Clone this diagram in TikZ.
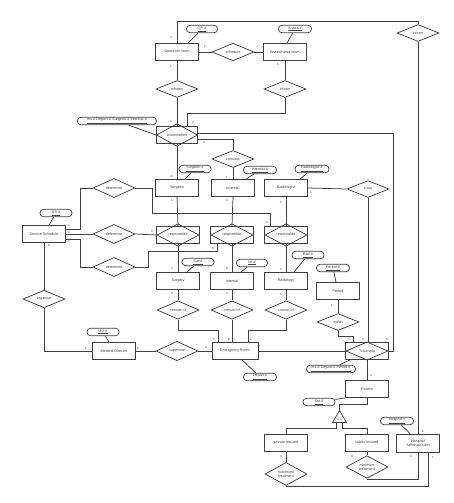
\documentclass[tikz,border=0pt]{standalone}
\usepackage{fontspec}
\setmainfont{Liberation Sans}
\usetikzlibrary{shapes.geometric}
\tikzset{
  base/.style={font=\fontsize{3.7}{4.3}\selectfont, text=black!75},
  ent/.style={base, draw=black!75, fill=white, line width=0.75pt, minimum width=43, minimum height=17, inner sep=0, align=center},
  rel/.style={base, draw=black!75, fill=white, line width=0.75pt, diamond, minimum width=42, minimum height=17, inner sep=0, align=center},
  arel/.style={base, draw=black!75, line width=0.75pt, diamond, minimum width=42, minimum height=16.5, inner sep=0},
  attr/.style={base, draw=black!75, fill=white, line width=0.75pt, rounded corners=3.5, minimum height=7.5, inner sep=0, minimum width=#1},
  attr/.default=32,
  conn/.style={draw=black!75, line width=0.75pt},
  lab/.style={font=\fontsize{3.2}{4}\selectfont, text=black!75, inner sep=0}
}
\begin{document}
\begin{tikzpicture}[x=1pt,y=-1pt]
\useasboundingbox[fill=white] (0,0) rectangle (454,503);

% ---------- entities / relations ----------
\node[ent] (opteam) at (177,52) {Operation team};
\node[ent] (anteam) at (285,52) {Anaesthesia team};
\node[attr=31] (opid) at (202,29) {\underline{OP-\#}};
\node[attr=33] (anid) at (295,29) {\underline{Anaes-\#}};
\node[rel] (schedule) at (233,52) {schedule};
\node[rel] (informs) at (177,89) {informs};
\node[rel] (inform2) at (285,89) {inform};
\node[rel] (informtop) at (418,33) {inform};

\node[ent, minimum width=41, minimum height=16.5] (exam) at (177,135) {};
\node[arel, minimum width=41] (examd) at (exam) {examination};
\node[attr=79] (examid) at (117,121) {\underline{Ins-\#-Depart-\#-Surgeon-\#-Internist-\#}};
\node[rel] (consults) at (233,159) {consults};

\node[ent] (surgeon) at (177,188) {Surgeon};
\node[attr=32] (surgid) at (195,169) {\underline{Surgeon-\#}};
\node[ent] (internist) at (233,188) {Internist};
\node[attr=33] (intid) at (260,170) {\underline{Internist-\#}};
\node[ent] (radiologist) at (286,188) {Radiologist};
\node[attr=34] (radid) at (312,169) {\underline{Radiologist-\#}};
\node[rel] (xray) at (368,189) {x-ray};

\node[ent] (resp1) at (178,235) {};
\node[arel] (resp1d) at (resp1) {responsible};
\node[ent] (resp2) at (232,235) {};
\node[arel] (resp2d) at (resp2) {responsible};
\node[ent] (resp3) at (286,235) {};
\node[arel] (resp3d) at (resp3) {responsible};

\node[ent] (ss) at (44,234) {Service Schedule};
\node[attr=32] (ssid) at (56,213) {\underline{SS-\#}};
\node[rel] (det1) at (114,188) {determine};
\node[rel] (det2) at (114,234) {determine};
\node[rel] (det3) at (114,267) {determine};
\node[rel] (organise) at (44,299) {organise};

\node[ent] (surgery) at (178,281) {Surgery};
\node[attr=32] (surid) at (198,262) {\underline{Sur-\#}};
\node[ent] (internal) at (232,281) {Internal};
\node[attr=31] (inid) at (252,263) {\underline{Int-\#}};
\node[ent] (radiology) at (286,281) {Radiology};
\node[attr=32] (rdid) at (308,255) {\underline{Rad-\#}};
\node[ent] (period) at (338,291) {Period};
\node[attr=33] (perid) at (333,268) {\underline{Period-\#}};
\node[rel] (within) at (338,322) {within};

\node[rel] (cons1) at (178,310) {consist of};
\node[rel] (cons2) at (232,310) {consist of};
\node[rel] (cons3) at (286,310) {consist of};

\node[ent, minimum width=46] (er) at (235,351) {Emergency Room};
\node[attr=33] (depid) at (260,377) {\underline{Depart-\#}};
\node[ent] (md) at (114,351) {Medical Director};
\node[attr=32] (mdid) at (103,332) {\underline{MD-\#}};
\node[rel] (supervise) at (177,351) {supervise};

\node[ent] (traumata) at (367,351) {};
\node[arel] (traumatad) at (traumata) {Traumata};
\node[attr=49] (trid) at (331,369) {\underline{Ins-\#-Depart-\#-Period-\#}};
\node[ent] (patient) at (367,389) {Patient};
\node[attr=32] (staid) at (319,402) {\underline{Sta-\#}};
\node[base, draw=black!75, fill=white, line width=0.75pt, regular polygon, regular polygon sides=3, minimum size=16, inner sep=0] (isa) at (339.5,418.5) {};
\node[base, inner sep=0, font=\fontsize{2.6}{3}\selectfont] (isat) at (339.5,419.5) {is a};

\node[ent] (private) at (286,443) {private insured};
\node[ent] (public) at (367,443) {public insured};
\node[ent, minimum height=18] (hosp) at (418,443) {Hospital\\Administration};
\node[attr=33] (hospid) at (397,421) {\underline{HospAd-\#}};
\node[rel, minimum height=18] (maxt) at (286,474) {maximum\\treatment};
\node[rel, minimum height=18] (mint) at (367,467) {minimum\\treatment};

% ---------- coordinates ----------
\coordinate (c1) at (177,21);
\coordinate (c4) at (187,113);
\coordinate (c3) at (393,133);
\coordinate (k1) at (80,188);
\coordinate (k2) at (152,213);
\coordinate (k3) at (80,267);
\coordinate (k4) at (148,251);
\coordinate (k5) at (178,330);
\coordinate (k6) at (286,330);
\coordinate (k7) at (338,336);
\coordinate (k8) at (367,404);
\coordinate (k9) at (286,428);
\coordinate (k10) at (367,428);
\coordinate (k11) at (367,479);
\coordinate (k12) at (286,486);

% ---------- connectors ----------
\draw[conn] (opteam.north) -- (c1) -| (informtop.north);
\draw[conn] (informtop.south) -- (hosp.north);
\draw[conn] (opteam.east) -- (schedule.west);
\draw[conn] (schedule.east) -- (anteam.west);
\draw[conn] (opteam.south) -- (informs.north);
\draw[conn] (informs.south) -- (exam.north);
\draw[conn] (anteam.south) -- (inform2.north);
\draw[conn] (inform2.south) |- (c4) -- ([xshift=10]exam.north);
\draw[conn] (opid) -- ([xshift=11]opteam.north);
\draw[conn] (anid) -- ([xshift=2]anteam.north);
\draw[conn] (examid) -- (exam.west);
\draw[conn] ([yshift=2]exam.east) -- (c3) |- (traumata.east);
\draw[conn] ([yshift=-4]exam.east) -| (consults.north);
\draw[conn] (consults.south) -- (internist.north);
\draw[conn] (exam.south) -- (surgeon.north);
\draw[conn] (surgid) -- ([xshift=8]surgeon.north);
\draw[conn] (intid) -- ([xshift=13]internist.north);
\draw[conn] (radid) -- ([xshift=14]radiologist.north);
\draw[conn] (radiologist.east) -- (xray.west);
\draw[conn] (xray.south) -- (xray.south |- traumata.north);
\draw[conn] (surgeon.south) -- (resp1.north);
\draw[conn] (internist.south) -- (resp2.north);
\draw[conn] (radiologist.south) -- (resp3.north);
\draw[conn] (ssid) -- ([xshift=5]ss.north);
\draw[conn] ([yshift=5]ss.east) -| (k1) -- (det1.west);
\draw[conn] (det1.east) -| (k2) -| ([xshift=-16]resp3.north);
\draw[conn] (ss.east) -- (det2.west);
\draw[conn] (det2.east) -- (resp1.west);
\draw[conn] ([yshift=-5]ss.east) -| (k3) -- (det3.west);
\draw[conn] (det3.east) -| (k4) -| ([xshift=-15]resp2.south);
\draw[conn] (ss.south) -- (organise.north);
\draw[conn] (organise.south) |- (md.west);
\draw[conn] (md.east) -- (supervise.west);
\draw[conn] (supervise.east) -- (er.west);
\draw[conn] (mdid) -- ([xshift=-5]md.north);
\draw[conn] (resp1.south) -- (surgery.north);
\draw[conn] (resp2.south) -- (internal.north);
\draw[conn] (resp3.south) -- (radiology.north);
\draw[conn] (surid) -- ([xshift=9]surgery.north);
\draw[conn] (inid) -- ([xshift=9]internal.north);
\draw[conn] (rdid) -- ([xshift=8]radiology.north);
\draw[conn] (surgery.south) -- (cons1.north);
\draw[conn] (internal.south) -- (cons2.north);
\draw[conn] (radiology.south) -- (cons3.north);
\draw[conn] (cons1.south) -- (k5) -| ([xshift=-17]er.north);
\draw[conn] (cons2.south) -- (cons2.south |- er.north);
\draw[conn] (cons3.south) -- (k6) -| ([xshift=13]er.north);
\draw[conn] (depid) -- ([xshift=7]er.south);
\draw[conn] (er.east) -- (traumata.west);
\draw[conn] (perid) -- ([xshift=-2]period.north);
\draw[conn] (period.south) -- (within.north);
\draw[conn] (within.south) -- (k7) -| ([xshift=-14]traumata.north);
\draw[conn] (trid) -- ([xshift=-17]traumata.south);
\draw[conn] (traumata.south) -- (patient.north);
\draw[conn] (staid) -- (patient.south west);
\draw[conn] (patient.south) -- (k8) -| (isa.corner 1);
\draw[conn] ([xshift=-3]isa.south) |- (k9) -- (private.north);
\draw[conn] ([xshift=3]isa.south) |- (k10) -- (public.north);
\draw[conn] (hospid) -- ([xshift=-8]hosp.north);
\draw[conn] (private.south) -- (maxt.north);
\draw[conn] (public.south) -- (mint.north);
\draw[conn] (mint.south) -- (k11) -| (hosp.south);
\draw[conn] (maxt.south) -- (k12) -| ([xshift=10]hosp.south);

% ---------- cardinality labels ----------
\node[lab] (l1) at (171,38) {n};
\node[lab] (l2) at (205,46) {1};
\node[lab] (l3) at (258,46) {1};
\node[lab] (l4) at (171,66) {1};
\node[lab] (l5) at (278,64) {1};
\node[lab] (l6) at (171,122) {n};
\node[lab] (l7) at (193,123) {n};
\node[lab] (l8) at (204,143) {n};
\node[lab] (l9) at (227,177) {1};
\node[lab] (l10) at (172,177) {m};
\node[lab] (l11) at (172,200) {1};
\node[lab] (l12) at (227,200) {1};
\node[lab] (l13) at (281,202) {1};
\node[lab] (l14) at (311,192) {1};
\node[lab] (l15) at (423,431) {1};
\node[lab] (l16) at (69,225) {1};
\node[lab] (l17) at (69,232) {1};
\node[lab] (l18) at (69,241) {1};
\node[lab] (l19) at (152,232) {n};
\node[lab] (l20) at (267,223) {n};
\node[lab] (l21) at (213,249) {n};
\node[lab] (l22) at (49,246) {n};
\node[lab] (l23) at (172,269) {n};
\node[lab] (l24) at (227,269) {n};
\node[lab] (l25) at (281,269) {1};
\node[lab] (l26) at (172,294) {n};
\node[lab] (l27) at (227,294) {n};
\node[lab] (l28) at (281,294) {1};
\node[lab] (l29) at (332,305) {1};
\node[lab] (l30) at (86,348) {1};
\node[lab] (l31) at (138,348) {1};
\node[lab] (l32) at (206,348) {n};
\node[lab] (l33) at (214,339) {1};
\node[lab] (l34) at (229,339) {1};
\node[lab] (l35) at (251,339) {1};
\node[lab] (l36) at (259,347) {m};
\node[lab] (l37) at (349,340) {n};
\node[lab] (l38) at (363,340) {n};
\node[lab] (l39) at (387,340) {n};
\node[lab] (l40) at (371,376) {n};
\node[lab] (l41) at (281,457) {n};
\node[lab] (l42) at (352,457) {n};
\node[lab] (l43) at (411,456) {1};
\node[lab] (l44) at (433,457) {1};
\end{tikzpicture}
\end{document}
